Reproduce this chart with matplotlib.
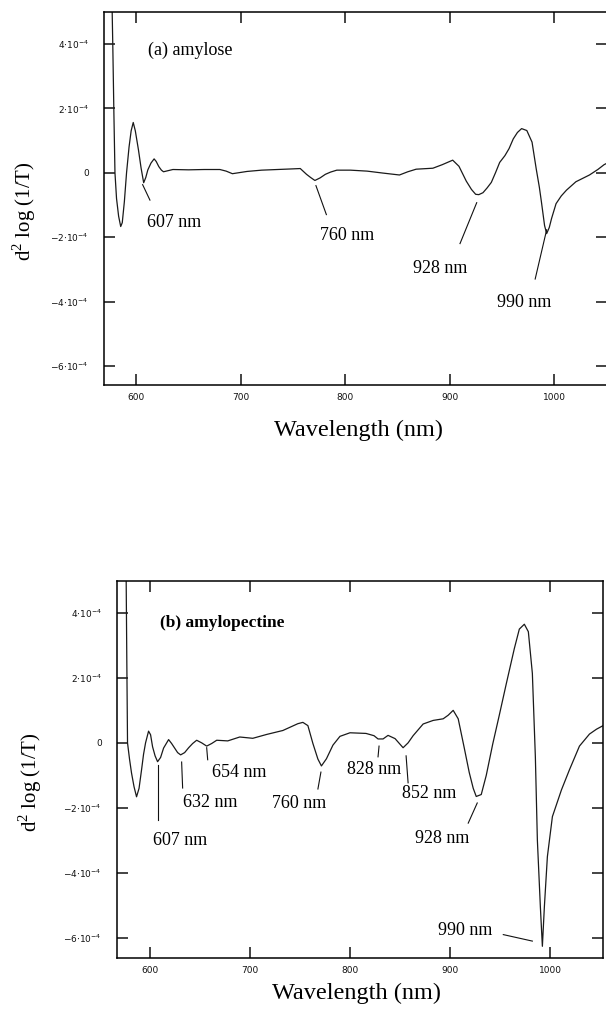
import numpy as np
import matplotlib
matplotlib.use("Agg")
import matplotlib.pyplot as plt

# ---------------- data (y in units of 1e-4) ----------------
a_wl = [576.5, 577.5, 578.5, 579.5, 581, 583, 585, 586.5, 588.5, 590.6, 593, 595, 597, 599,
        602, 604.5, 607, 609, 611, 614, 617, 619, 621.5, 624, 626, 635, 650, 665, 680,
        686, 692, 698, 706, 720, 735, 750, 757, 763, 767, 771, 776, 781, 786, 792, 805,
        821, 836, 852, 860, 868, 884, 893, 903, 909, 916, 921, 925, 928, 932, 936, 940,
        944, 948, 953, 957, 961, 965, 969, 974, 979, 983, 986, 988, 991, 993, 995.5,
        997.7, 1002, 1007, 1012, 1021, 1034, 1042, 1048, 1051]
a_val = [5.6, 3.8, 1.8, 0.0, -0.8, -1.35, -1.67, -1.55, -0.9, 0.0, 0.8, 1.3, 1.56, 1.3,
         0.71, 0.15, -0.31, -0.15, 0.09, 0.3, 0.43, 0.35, 0.19, 0.08, 0.03, 0.1, 0.09, 0.1, 0.1,
         0.05, -0.03, 0.0, 0.04, 0.08, 0.1, 0.12, 0.13, -0.05, -0.15, -0.24, -0.16, -0.05, 0.02, 0.08, 0.08,
         0.05, -0.01, -0.07, 0.03, 0.11, 0.14, 0.25, 0.39, 0.2, -0.26, -0.52, -0.67, -0.68, -0.62, -0.47, -0.3,
         0.0, 0.32, 0.53, 0.75, 1.05, 1.25, 1.37, 1.31, 0.95, 0.12, -0.45, -0.91, -1.64, -1.89, -1.7,
         -1.42, -0.96, -0.72, -0.54, -0.28, -0.07, 0.1, 0.25, 0.3]

b_wl = [576.5, 577.3, 578, 580, 582, 584.5, 587, 589.5, 592, 594, 596, 599, 601, 603, 605.5,
        608, 611, 614, 619, 622, 625, 628, 631, 635, 639, 643, 647, 652, 657, 662, 667,
        678, 690, 703, 717, 733, 748, 753, 758, 763, 768, 771.5, 776.5, 783, 790, 800,
        816, 824, 828, 833, 838, 845, 853, 858, 863, 873, 883, 893, 898, 903, 908, 914,
        919, 923, 926, 931, 936, 942.5, 949, 956, 964, 969, 974, 978, 982, 985, 987,
        990, 992, 994, 997, 1002, 1011, 1019, 1029, 1039, 1046, 1052]
b_val = [5.6, 2.5, 0.0, -0.5, -0.93, -1.35, -1.66, -1.4, -0.83, -0.35, 0.0, 0.36, 0.25, -0.12, -0.4,
         -0.58, -0.45, -0.16, 0.1, -0.02, -0.16, -0.3, -0.37, -0.3, -0.15, -0.02, 0.08, 0.0, -0.1, -0.02, 0.08,
         0.06, 0.18, 0.14, 0.26, 0.38, 0.59, 0.63, 0.53, -0.02, -0.5, -0.71, -0.49, -0.07, 0.2, 0.31,
         0.29, 0.22, 0.12, 0.12, 0.23, 0.13, -0.15, 0.0, 0.22, 0.58, 0.69, 0.74, 0.85, 1.0, 0.74, -0.15,
         -0.91, -1.4, -1.65, -1.59, -1.0, -0.03, 0.85, 1.82, 2.9, 3.5, 3.65, 3.42, 2.14, -0.43, -2.99,
         -5.05, -6.26, -5.04, -3.5, -2.27, -1.45, -0.83, -0.1, 0.27, 0.42, 0.52]

# annotations: (label, text x, text y, line start (x,y), line end (x,y))
a_notes = [("607 nm", 610, -1.55, (613, -0.85), (606, -0.37)),
           ("760 nm", 776, -1.95, (782, -1.3), (772, -0.4)),
           ("928 nm", 865, -2.98, (910, -2.2), (926, -0.93)),
           ("990 nm", 945, -4.03, (982, -3.3), (993, -1.77))]
b_notes = [("607 nm", 603, -2.99, (608, -2.37), (608, -0.68)),
           ("632 nm", 633, -1.85, (633, -1.39), (632, -0.59)),
           ("654 nm", 662, -0.9, (658, -0.52), (657, -0.15)),
           ("760 nm", 722, -1.88, (768, -1.42), (771, -0.9)),
           ("828 nm", 797, -0.83, (828, -0.43), (829, -0.1)),
           ("852 nm", 852, -1.55, (858, -1.23), (856, -0.4)),
           ("928 nm", 865, -2.93, (918, -2.47), (927, -1.85)),
           ("990 nm", 888, -5.76, (953, -5.9), (982, -6.1))]

x_ticks = [600, 700, 800, 900, 1000]
y_ticks = [4, 2, 0, -2, -4, -6]
y_ticklabels = [r"4$\cdot$10$^{-4}$", r"2$\cdot$10$^{-4}$", "0",
                r"$-$2$\cdot$10$^{-4}$", r"$-$4$\cdot$10$^{-4}$", r"$-$6$\cdot$10$^{-4}$"]
scale = 1e-4

serif = ["Liberation Serif", "DejaVu Serif"]

fig = plt.figure(figsize=(6.06, 10.14), dpi=100)

def panel(rect, xlim, ylim, wl, val, notes, title, title_xy, title_bold):
    ax = fig.add_axes(rect)
    ax.plot(wl, np.array(val) * scale, color="#1a1a1a", lw=0.9)
    ax.set_xlim(*xlim)
    ax.set_ylim(ylim[0] * scale, ylim[1] * scale)
    ax.set_xticks(x_ticks)
    ax.set_xticklabels([str(t) for t in x_ticks])
    ax.set_yticks([t * scale for t in y_ticks])
    ax.set_yticklabels(y_ticklabels)
    ax.tick_params(direction="in", length=8, width=1.1, top=True, right=True,
                   labelsize=6.5, colors="#111111")
    ax.tick_params(axis="y", pad=11)
    ax.tick_params(axis="x", pad=6)
    for s in ax.spines.values():
        s.set_linewidth(1.1)
    for lab, tx, ty, p0, p1 in notes:
        ax.plot([p0[0], p1[0]], [p0[1] * scale, p1[1] * scale], color="#111111", lw=0.8)
        ax.text(tx, ty * scale, lab, family=serif, fontsize=13, ha="left", va="center")
    ax.text(title_xy[0], title_xy[1] * scale, title, family=serif, fontsize=13 if not title_bold else 12.5,
            fontweight="bold" if title_bold else "normal", ha="left", va="center")
    return ax

ax1 = panel([104/606, 1 - 385/1014, (606-104)/606 + 0.002, (385-12)/1014],
            (569, 1051), (-6.59, 4.99), a_wl, a_val, a_notes, "(a) amylose", (611, 3.81), False)
ax2 = panel([117/606, 1 - 958/1014, (603-117)/606, (958-581)/1014],
            (567.5, 1052.5), (-6.62, 4.98), b_wl, b_val, b_notes, "(b) amylopectine", (610, 3.7), True)

ylab = r"d$^{\mathregular{2}}$ log (1/T)"
fig.text(24/606, 1 - 211/1014, ylab, family=serif, fontsize=15, rotation=90, ha="center", va="center")
fig.text(30/606, 1 - 782/1014, ylab, family=serif, fontsize=15, rotation=90, ha="center", va="center")
fig.text(359/606, 1 - 430/1014, "Wavelength (nm)", family=serif, fontsize=17.5, ha="center", va="center")
fig.text(357/606, 1 - 993/1014, "Wavelength (nm)", family=serif, fontsize=17.5, ha="center", va="center")

fig.savefig("out.png", dpi=100)
